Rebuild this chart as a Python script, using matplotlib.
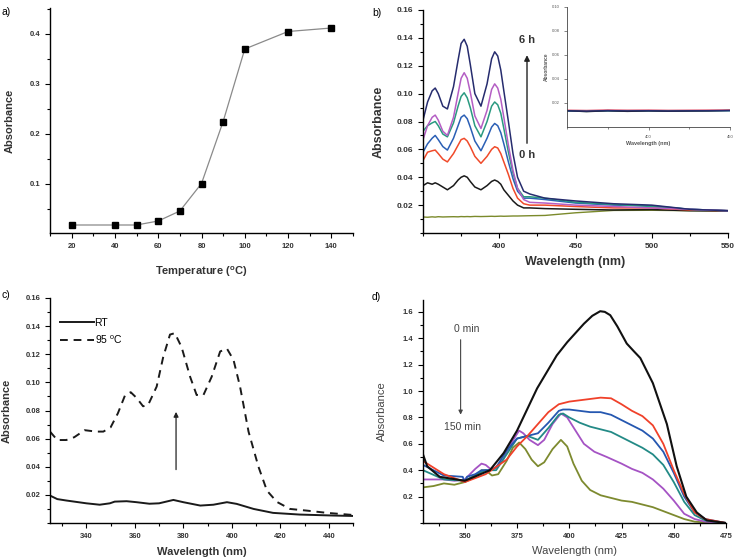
import matplotlib
matplotlib.use('Agg')
import matplotlib.pyplot as plt
from matplotlib.ticker import MultipleLocator

plt.rcParams['font.family'] = ['Liberation Sans', 'DejaVu Sans']
plt.rcParams['mathtext.fontset'] = 'custom'
plt.rcParams['mathtext.rm'] = 'Liberation Sans'
plt.rcParams['mathtext.bf'] = 'Liberation Sans:bold'
plt.rcParams['mathtext.default'] = 'regular'

# ---- panel a: absorbance vs temperature
temp = [20, 40, 50, 60, 70, 80, 90, 100, 120, 140]
abs_temp = [0.018, 0.018, 0.018, 0.026, 0.046, 0.101, 0.225, 0.370, 0.405, 0.412]

# ---- panel b: spectra over 6 h
wl_b = [350, 353, 356, 358, 360, 363, 366, 370, 373, 375, 377, 379, 381, 384, 388, 392, 395,
        397, 399, 401, 403, 406, 409, 412, 416, 420, 430, 450, 475, 500, 525, 550]
b_navy = [0.081, 0.094, 0.102, 0.104, 0.100, 0.091, 0.089, 0.105, 0.124, 0.136, 0.139, 0.134,
          0.121, 0.100, 0.091, 0.107, 0.125, 0.130, 0.127, 0.117, 0.102, 0.080, 0.057, 0.040,
          0.030, 0.028, 0.025, 0.023, 0.021, 0.020, 0.017, 0.016]
b_magenta = [0.067, 0.077, 0.083, 0.0846, 0.081, 0.073, 0.070, 0.083, 0.100, 0.111, 0.115, 0.111,
             0.101, 0.084, 0.075, 0.088, 0.103, 0.107, 0.104, 0.096, 0.083, 0.063, 0.045, 0.032,
             0.024, 0.022, 0.0215, 0.020, 0.019, 0.018, 0.017, 0.016]
b_teal = [0.073, 0.077, 0.079, 0.080, 0.077, 0.071, 0.069, 0.079, 0.091, 0.098, 0.1006, 0.097,
          0.090, 0.077, 0.069, 0.080, 0.091, 0.094, 0.092, 0.086, 0.075, 0.058, 0.043, 0.032,
          0.026, 0.026, 0.025, 0.022, 0.0205, 0.019, 0.017, 0.016]
b_blue = [0.058, 0.064, 0.068, 0.070, 0.067, 0.062, 0.0595, 0.068, 0.077, 0.083, 0.0846, 0.082,
          0.076, 0.066, 0.059, 0.068, 0.076, 0.0786, 0.077, 0.072, 0.064, 0.051, 0.039, 0.030,
          0.025, 0.025, 0.024, 0.0215, 0.020, 0.0195, 0.017, 0.016]
b_red = [0.052, 0.058, 0.059, 0.0595, 0.057, 0.053, 0.051, 0.057, 0.063, 0.067, 0.0679, 0.066,
         0.062, 0.055, 0.050, 0.055, 0.060, 0.0619, 0.061, 0.057, 0.051, 0.042, 0.032, 0.025,
         0.021, 0.020, 0.020, 0.019, 0.018, 0.018, 0.0165, 0.016]
b_black = [0.034, 0.036, 0.035, 0.036, 0.035, 0.033, 0.031, 0.034, 0.038, 0.040, 0.041, 0.040,
           0.037, 0.033, 0.031, 0.034, 0.037, 0.038, 0.037, 0.035, 0.031, 0.027, 0.023, 0.020,
           0.018, 0.018, 0.0175, 0.017, 0.0165, 0.0168, 0.016, 0.0158]
b_olive = [0.0115, 0.0113, 0.0116, 0.0114, 0.0117, 0.0115, 0.0116, 0.0117, 0.0116, 0.0118,
           0.0117, 0.0118, 0.0117, 0.0119, 0.0118, 0.0119, 0.012, 0.0119, 0.012, 0.0121, 0.012,
           0.0121, 0.0122, 0.0122, 0.0123, 0.0124, 0.0126, 0.0145, 0.0162, 0.0163, 0.016, 0.0158]

# inset of panel b
wl_in = [350, 362, 375, 387, 400, 412, 425, 437, 450]
in_red = [0.0140, 0.0138, 0.0142, 0.0140, 0.0141, 0.0139, 0.0140, 0.0141, 0.0142]
in_navy = [0.0135, 0.0132, 0.0137, 0.0134, 0.0136, 0.0133, 0.0135, 0.0136, 0.0138]
in_cyan = [0.0132, 0.0130, 0.0133, 0.0131, 0.0133, 0.0132, 0.0133, 0.0134, 0.0135]
in_black = [0.0136, 0.0128, 0.0135, 0.0130, 0.0134, 0.0131, 0.0133, 0.0134, 0.0137]

# ---- panel c: RT vs 95 C
wl_c95 = [325, 328, 331.7, 335, 339.3, 344, 347, 350, 353, 356, 358.3, 360.7, 363.4, 365.5, 369,
          371.7, 374.5, 376.5, 379.3, 382.8, 385.5, 388.3, 391.7, 395.2, 398, 400.7, 403.4, 406.9,
          411, 414.5, 418.6, 424, 431, 439.3, 450]
abs_95 = [0.065, 0.059, 0.059, 0.061, 0.066, 0.065, 0.065, 0.068, 0.078, 0.091, 0.093, 0.089,
          0.083, 0.084, 0.097, 0.118, 0.134, 0.135, 0.125, 0.104, 0.091, 0.091, 0.104, 0.122,
          0.124, 0.116, 0.097, 0.065, 0.040, 0.023, 0.015, 0.010, 0.0088, 0.0072, 0.0057]
wl_crt = [325, 328, 331.7, 340, 345.5, 349.7, 351.7, 356.6, 360.7, 366, 370, 375.9, 380, 387,
          392.4, 398, 402, 409, 417, 428, 442, 450]
abs_rt = [0.0195, 0.017, 0.016, 0.014, 0.013, 0.014, 0.0152, 0.0155, 0.0148, 0.0137, 0.014,
          0.0164, 0.0148, 0.0124, 0.013, 0.0148, 0.0136, 0.010, 0.0072, 0.006, 0.0053, 0.005]

# ---- panel d: decay over 150 min
wl_d_black = [330, 332, 338, 350, 362, 368.6, 375, 384.6, 394, 399, 407, 411, 414.8, 417, 419.6,
              423, 427.5, 431, 434, 440, 446.7, 451.4, 456, 461, 465.8, 475]
d_black = [0.52, 0.43, 0.35, 0.32, 0.40, 0.53, 0.70, 1.02, 1.27, 1.37, 1.51, 1.57, 1.605, 1.60,
           1.575, 1.49, 1.36, 1.30, 1.25, 1.06, 0.75, 0.43, 0.20, 0.08, 0.02, 0.0]
wl_d_red = [330, 340, 350, 360, 370, 375, 380, 385, 390, 395, 400, 410, 415, 420, 425, 430, 435,
            440, 445, 450, 455, 460, 465, 475]
d_red = [0.47, 0.37, 0.31, 0.37, 0.48, 0.58, 0.66, 0.75, 0.84, 0.90, 0.92, 0.94, 0.95, 0.945,
         0.90, 0.85, 0.81, 0.74, 0.60, 0.40, 0.22, 0.08, 0.03, 0.0]
wl_d_blue = [330, 340, 349, 350, 351, 355, 358, 362, 365, 370, 375, 380, 385, 390, 395, 397,
             400, 410, 415, 420, 425, 430, 435, 440, 445, 450, 455, 460, 465, 475]
d_blue = [0.44, 0.36, 0.35, 0.31, 0.35, 0.37, 0.40, 0.40, 0.42, 0.55, 0.64, 0.66, 0.68, 0.76,
          0.85, 0.86, 0.86, 0.84, 0.84, 0.82, 0.78, 0.74, 0.70, 0.64, 0.54, 0.38, 0.20, 0.08,
          0.03, 0.0]
wl_d_teal = [330, 340, 350, 357, 360, 365, 370, 375, 380, 385, 390, 395, 397, 400, 405, 410, 415,
             420, 425, 430, 435, 440, 445, 450, 455, 460, 465, 475]
d_teal = [0.40, 0.33, 0.32, 0.38, 0.40, 0.40, 0.52, 0.64, 0.66, 0.63, 0.72, 0.82, 0.83, 0.80,
          0.76, 0.73, 0.71, 0.69, 0.65, 0.61, 0.57, 0.52, 0.44, 0.31, 0.16, 0.06, 0.02, 0.0]
wl_d_violet = [330, 340, 345, 350, 355, 358, 360, 363, 368, 372, 376, 378, 381, 385, 388, 392, 396,
               399, 403, 407, 412, 418, 425, 430, 435, 440, 445, 450, 455, 460, 465, 475]
d_violet = [0.33, 0.33, 0.32, 0.33, 0.41, 0.45, 0.44, 0.40, 0.47, 0.60, 0.70, 0.68, 0.63, 0.59,
            0.63, 0.75, 0.83, 0.80, 0.70, 0.60, 0.54, 0.50, 0.45, 0.41, 0.38, 0.33, 0.26, 0.17,
            0.07, 0.03, 0.01, 0.0]
wl_d_olive = [330, 335, 340, 345, 350, 355, 358, 360, 363, 366, 370, 373, 376, 379, 382, 385, 388,
              392, 396, 399, 402, 406, 410, 415, 420, 425, 430, 435, 440, 445, 450, 455, 460, 465,
              475]
d_olive = [0.27, 0.28, 0.30, 0.29, 0.31, 0.35, 0.40, 0.40, 0.36, 0.37, 0.47, 0.57, 0.61, 0.56,
           0.48, 0.43, 0.46, 0.56, 0.63, 0.58, 0.45, 0.32, 0.25, 0.21, 0.19, 0.17, 0.16, 0.14,
           0.12, 0.09, 0.06, 0.03, 0.01, 0.005, 0.0]

W, H = 740, 558
fig = plt.figure(figsize=(7.4, 5.58), dpi=100)


def box(l, r, t, b):
    return [l / W, 1 - b / H, (r - l) / W, (b - t) / H]


def style(ax, tick_size=5.5):
    for s in ['top', 'right']:
        ax.spines[s].set_visible(False)
    for s in ['left', 'bottom']:
        ax.spines[s].set_linewidth(1.0)
    ax.tick_params(which='both', direction='out', width=0.8, labelsize=tick_size)
    ax.tick_params(which='major', length=3.5)
    ax.tick_params(which='minor', length=2)
    for lab in ax.get_xticklabels() + ax.get_yticklabels():
        lab.set_fontweight('bold')
        lab.set_color('#333333')


# a)
ax_a = fig.add_axes(box(50, 353, 8, 233))
ax_a.plot(temp, abs_temp, color='#8a8a8a', lw=0.9, marker='s', ms=4.2,
          mfc='black', mec='black')
ax_a.set_xlim(10, 150)
ax_a.set_ylim(0.002, 0.452)
ax_a.set_xticks([20, 40, 60, 80, 100, 120, 140])
ax_a.xaxis.set_minor_locator(MultipleLocator(10))
ax_a.set_yticks([0.1, 0.2, 0.3, 0.4])
ax_a.yaxis.set_minor_locator(MultipleLocator(0.05))
style(ax_a)
ax_a.set_xlabel('Temperature ($^{o}$C)', fontsize=8, fontweight='bold', color='#333333')
ax_a.set_ylabel('Absorbance', fontsize=8, fontweight='bold', color='#333333')
ax_a.xaxis.set_label_coords(0.5, -0.14)
ax_a.yaxis.set_label_coords(-0.115, 0.5)
fig.text(2 / W, 1 - 12 / H, 'a)', fontsize=7.5, va='center')

# b)
ax_b = fig.add_axes(box(423, 728, 10, 233))
ax_b.plot(wl_b, b_olive, color='#7b8a2b', lw=1.0)
ax_b.plot(wl_b, b_black, color='#1a1a1a', lw=1.1)
ax_b.plot(wl_b, b_red, color='#f04a2a', lw=1.1)
ax_b.plot(wl_b, b_blue, color='#2b5fb5', lw=1.1)
ax_b.plot(wl_b, b_teal, color='#2a9a80', lw=1.1)
ax_b.plot(wl_b, b_magenta, color='#b45ec4', lw=1.1)
ax_b.plot(wl_b, b_navy, color='#262c6e', lw=1.1)
ax_b.set_xlim(350, 550)
ax_b.set_ylim(0.0, 0.16)
ax_b.set_xticks([400, 450, 500, 550])
ax_b.xaxis.set_minor_locator(MultipleLocator(25))
ax_b.set_yticks([0.02, 0.04, 0.06, 0.08, 0.10, 0.12, 0.14, 0.16])
ax_b.yaxis.set_minor_locator(MultipleLocator(0.01))
style(ax_b, 6)
ax_b.set_xlabel('Wavelength (nm)', fontsize=9, fontweight='bold', color='#333333')
ax_b.set_ylabel('Absorbance', fontsize=9, fontweight='bold', color='#333333')
ax_b.xaxis.set_label_coords(0.5, -0.105)
ax_b.yaxis.set_label_coords(-0.125, 0.5)
ax_b.annotate('', xy=(0.341, 0.81), xytext=(0.341, 0.39), xycoords='axes fraction',
              arrowprops=dict(arrowstyle='-|>', color='#222222', lw=1.0, mutation_scale=8))
ax_b.text(0.341, 0.865, '6 h', transform=ax_b.transAxes, ha='center', va='center',
          fontsize=8, fontweight='bold', color='#333333')
ax_b.text(0.341, 0.35, '0 h', transform=ax_b.transAxes, ha='center', va='center',
          fontsize=8, fontweight='bold', color='#333333')
fig.text(372 / W, 1 - 13 / H, 'b)', fontsize=7.5, va='center')

# inset
ax_in = fig.add_axes(box(567, 730, 7, 127))
ax_in.set_facecolor('none')
ax_in.plot(wl_in, in_red, color='#e0506a', lw=1.0)
ax_in.plot(wl_in, in_cyan, color='#3aa0d0', lw=1.0)
ax_in.plot(wl_in, in_black, color='#222222', lw=1.0)
ax_in.plot(wl_in, in_navy, color='#262c6e', lw=1.0)
ax_in.set_xlim(350, 450)
ax_in.set_ylim(0, 0.10)
ax_in.set_xticks([400, 450])
ax_in.xaxis.set_minor_locator(MultipleLocator(25))
ax_in.set_yticks([0.02, 0.04, 0.06, 0.08, 0.10])
for s in ['top', 'right']:
    ax_in.spines[s].set_visible(False)
for s in ['left', 'bottom']:
    ax_in.spines[s].set_linewidth(0.6)
    ax_in.spines[s].set_color('#444444')
ax_in.tick_params(which='both', direction='out', width=0.5, labelsize=3, colors='#555555')
ax_in.tick_params(which='major', length=2)
ax_in.tick_params(which='minor', length=1.2)
ax_in.set_xlabel('Wavelength (nm)', fontsize=4, fontweight='bold', color='#555555', labelpad=2)
ax_in.set_ylabel('Absorbance', fontsize=3.5, fontweight='bold', color='#555555', labelpad=2)

# c)
ax_c = fig.add_axes(box(50, 353, 298, 523))
ax_c.plot(wl_crt, abs_rt, color='#1a1a1a', lw=1.4, label='RT')
ax_c.plot(wl_c95, abs_95, color='#1a1a1a', lw=1.4, ls=(0, (4, 3)), label='95 $^{o}$C')
ax_c.set_xlim(325, 450)
ax_c.set_ylim(0.0, 0.16)
ax_c.set_xticks([340, 360, 380, 400, 420, 440])
ax_c.xaxis.set_minor_locator(MultipleLocator(10))
ax_c.set_yticks([0.02, 0.04, 0.06, 0.08, 0.10, 0.12, 0.14, 0.16])
ax_c.yaxis.set_minor_locator(MultipleLocator(0.01))
style(ax_c)
ax_c.set_xlabel('Wavelength (nm)', fontsize=8, fontweight='bold', color='#333333')
ax_c.set_ylabel('Absorbance', fontsize=8, fontweight='bold', color='#333333')
ax_c.xaxis.set_label_coords(0.5, -0.105)
ax_c.yaxis.set_label_coords(-0.125, 0.5)
ax_c.legend(loc='upper left', bbox_to_anchor=(0.02, 0.93), frameon=False, fontsize=7.5,
            handlelength=3.2, handletextpad=0.1, labelspacing=0.5, borderaxespad=0)
ax_c.annotate('', xy=(377, 0.081), xytext=(377, 0.036),
              arrowprops=dict(arrowstyle='-|>', color='#222222', lw=0.9, mutation_scale=7))
fig.text(2 / W, 1 - 295 / H, 'c)', fontsize=7.5, va='center')

# d)
ax_d = fig.add_axes(box(423, 726, 300, 523))
ax_d.plot(wl_d_olive, d_olive, color='#7d8a2f', lw=1.3)
ax_d.plot(wl_d_violet, d_violet, color='#a553c4', lw=1.3)
ax_d.plot(wl_d_teal, d_teal, color='#238a86', lw=1.3)
ax_d.plot(wl_d_blue, d_blue, color='#2557b0', lw=1.3)
ax_d.plot(wl_d_red, d_red, color='#f0412a', lw=1.3)
ax_d.plot(wl_d_black, d_black, color='#111111', lw=1.5)
ax_d.set_xlim(330, 475)
ax_d.set_ylim(0.0, 1.69)
ax_d.set_xticks([350, 375, 400, 425, 450, 475])
ax_d.xaxis.set_minor_locator(MultipleLocator(12.5))
ax_d.set_yticks([0.2, 0.4, 0.6, 0.8, 1.0, 1.2, 1.4, 1.6])
ax_d.yaxis.set_minor_locator(MultipleLocator(0.1))
style(ax_d)
ax_d.set_xlabel('Wavelength (nm)', fontsize=8, color='#444444')
ax_d.set_ylabel('Absorbance', fontsize=8, color='#444444')
ax_d.xaxis.set_label_coords(0.5, -0.105)
ax_d.yaxis.set_label_coords(-0.119, 0.5)
ax_d.text(351, 1.47, '0 min', ha='center', va='center', fontsize=7.5, color='#444444')
ax_d.text(349, 0.73, '150 min', ha='center', va='center', fontsize=7.5, color='#444444')
ax_d.annotate('', xy=(348, 0.8), xytext=(348, 1.41),
              arrowprops=dict(arrowstyle='-|>', color='#444444', lw=0.8, mutation_scale=6))
fig.text(372 / W, 1 - 297 / H, 'd)', fontsize=7.5, va='center')

fig.savefig('out.png', dpi=100)
